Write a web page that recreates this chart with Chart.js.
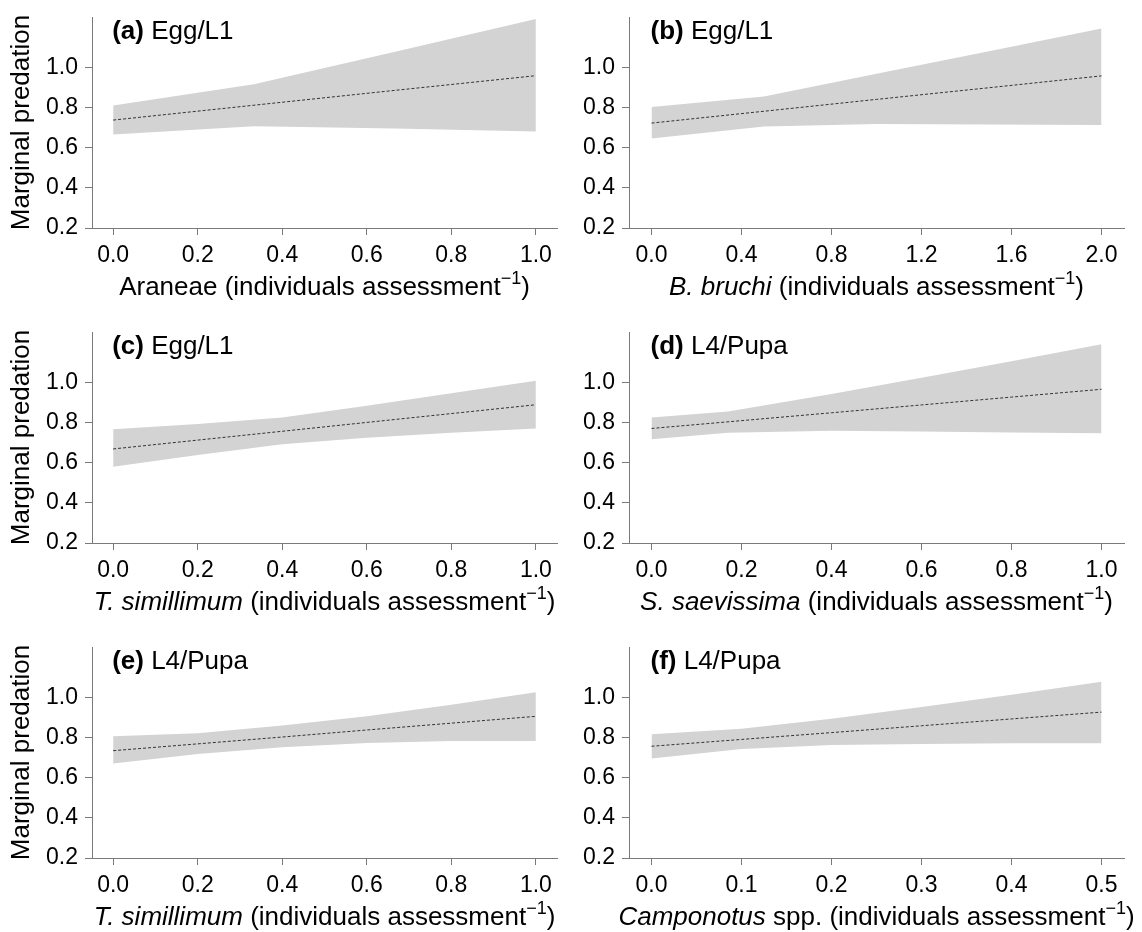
<!DOCTYPE html>
<html>
<head>
<meta charset="utf-8">
<script src="https://cdn.jsdelivr.net/npm/chart.js@4.4.1/dist/chart.umd.min.js"></script>
<style>
  body { margin: 0; background: #fff; }
  #wrap { position: relative; width: 1142px; height: 932px; overflow: hidden; }
  #wrap canvas { position: absolute; }
</style>
</head>
<body>
<div id="wrap"></div>
<script>
'use strict';

// tick labels
const yTicks = [0.2, 0.4, 0.6, 0.8, 1.0];
const ticksUnit = [0, 0.2, 0.4, 0.6, 0.8, 1.0];
const ticksBruchi = [0, 0.4, 0.8, 1.2, 1.6, 2.0];
const ticksCamponotus = [0, 0.1, 0.2, 0.3, 0.4, 0.5];

// (a) Araneae, Egg/L1
const xA = [0, 0.333, 0.667, 1];
const upperA = [0.810, 0.915, 1.077, 1.240];
const lowerA = [0.665, 0.706, 0.695, 0.680];
const meanA = [0.737, 0.811, 0.885, 0.958];

// (b) B. bruchi, Egg/L1
const xB = [0, 0.5, 1, 1.5, 2];
const upperB = [0.802, 0.855, 0.968, 1.080, 1.193];
const lowerB = [0.645, 0.705, 0.717, 0.715, 0.713];
const meanB = [0.722, 0.781, 0.840, 0.898, 0.957];

// (c) T. simillimum, Egg/L1
const xC = [0, 0.2, 0.4, 0.6, 0.8, 1];
const upperC = [0.766, 0.792, 0.825, 0.883, 0.945, 1.008];
const lowerC = [0.579, 0.638, 0.691, 0.724, 0.749, 0.770];
const meanC = [0.668, 0.712, 0.756, 0.800, 0.844, 0.888];

// (d) S. saevissima, L4/Pupa
const xD = [0, 0.17, 0.4, 0.6, 0.8, 1];
const upperD = [0.825, 0.855, 0.942, 1.022, 1.105, 1.189];
const lowerD = [0.716, 0.749, 0.758, 0.755, 0.750, 0.746];
const meanD = [0.770, 0.803, 0.848, 0.887, 0.926, 0.965];

// (e) T. simillimum, L4/Pupa
const xE = [0, 0.2, 0.4, 0.6, 0.8, 1];
const upperE = [0.806, 0.821, 0.859, 0.905, 0.963, 1.025];
const lowerE = [0.670, 0.717, 0.751, 0.772, 0.782, 0.782];
const meanE = [0.734, 0.768, 0.802, 0.837, 0.871, 0.905];

// (f) Camponotus spp., L4/Pupa
const xF = [0, 0.1, 0.2, 0.3, 0.4, 0.5];
const upperF = [0.816, 0.843, 0.893, 0.951, 1.013, 1.077];
const lowerF = [0.695, 0.742, 0.762, 0.767, 0.771, 0.771];
const meanF = [0.756, 0.790, 0.824, 0.858, 0.892, 0.926];

const FONT = '"Liberation Sans", Arial, Helvetica, sans-serif';
const AXIS_GREY = '#7a7a7a';

const panels = [
  { tag: '(a)', stage: 'Egg/L1', x: xA, up: upperA, lo: lowerA, mean: meanA, ticks: ticksUnit,
    xmin: -0.05, xmax: 1.05, col: 0, row: 0, taxon: [['Araneae', false]] },
  { tag: '(b)', stage: 'Egg/L1', x: xB, up: upperB, lo: lowerB, mean: meanB, ticks: ticksBruchi,
    xmin: -0.1, xmax: 2.1, col: 1, row: 0, taxon: [['B. bruchi', true]] },
  { tag: '(c)', stage: 'Egg/L1', x: xC, up: upperC, lo: lowerC, mean: meanC, ticks: ticksUnit,
    xmin: -0.05, xmax: 1.05, col: 0, row: 1, taxon: [['T. simillimum', true]] },
  { tag: '(d)', stage: 'L4/Pupa', x: xD, up: upperD, lo: lowerD, mean: meanD, ticks: ticksUnit,
    xmin: -0.05, xmax: 1.05, col: 1, row: 1, taxon: [['S. saevissima', true]] },
  { tag: '(e)', stage: 'L4/Pupa', x: xE, up: upperE, lo: lowerE, mean: meanE, ticks: ticksUnit,
    xmin: -0.05, xmax: 1.05, col: 0, row: 2, taxon: [['T. simillimum', true]] },
  { tag: '(f)', stage: 'L4/Pupa', x: xF, up: upperF, lo: lowerF, mean: meanF, ticks: ticksCamponotus,
    xmin: -0.025, xmax: 0.525, col: 1, row: 2, taxon: [['Camponotus', true], [' spp.', false]] }
];

// canvas grid: columns and rows of the figure
const colLeft = [0, 575], colWidth = [575, 567], yAxisWidth = [92, 54];
const rowTop = [0, 315, 630], rowHeight = [315, 315, 302];
const PLOT_TOP = 17, PLOT_BOTTOM = 228, PAD_RIGHT = 18;

// panel tag and the mixed-style x axis title
const panelText = {
  id: 'panelText',
  afterDraw(chart, args, opts) {
    const { ctx, chartArea, scales } = chart;
    ctx.save();
    ctx.fillStyle = '#000';
    ctx.textBaseline = 'middle';
    ctx.textAlign = 'left';

    let x = scales.x.getPixelForValue(0) - 1;
    const yTag = chartArea.top + 15;
    ctx.font = 'bold 26px ' + FONT;
    ctx.fillText(opts.tag, x, yTag);
    x += ctx.measureText(opts.tag).width;
    ctx.font = '26px ' + FONT;
    x += ctx.measureText(' ').width;
    ctx.fillText(opts.stage, x, yTag);

    const parts = opts.taxon.map(p => ({ t: p[0], font: (p[1] ? 'italic ' : '') + '26px ' + FONT, dy: 0 }));
    parts.push({ t: ' (individuals assessment', font: '26px ' + FONT, dy: 0 });
    parts.push({ t: '\u22121', font: '18px ' + FONT, dy: -9 });
    parts.push({ t: ')', font: '26px ' + FONT, dy: 0 });
    let total = 0;
    parts.forEach(p => { ctx.font = p.font; p.w = ctx.measureText(p.t).width; total += p.w; });
    let tx = (chartArea.left + chartArea.right) / 2 - total / 2;
    const ty = chartArea.bottom + 60;
    parts.forEach(p => {
      ctx.font = p.font;
      ctx.fillText(p.t, tx, ty + p.dy);
      tx += p.w;
    });
    ctx.restore();
  }
};

function zeroPadding(scale) {
  scale.paddingTop = 0;
  scale.paddingBottom = 0;
  scale.paddingLeft = 0;
  scale.paddingRight = 0;
}

const wrap = document.getElementById('wrap');

panels.forEach(p => {
  const cv = document.createElement('canvas');
  const w = colWidth[p.col], h = rowHeight[p.row];
  cv.width = w; cv.height = h;
  cv.style.left = colLeft[p.col] + 'px';
  cv.style.top = rowTop[p.row] + 'px';
  cv.style.width = w + 'px';
  cv.style.height = h + 'px';
  wrap.appendChild(cv);

  const toPts = ys => p.x.map((v, i) => ({ x: v, y: ys[i] }));

  new Chart(cv, {
    type: 'line',
    data: {
      datasets: [
        { data: toPts(p.up), borderWidth: 0, pointRadius: 0, fill: '+1',
          backgroundColor: '#d3d3d3', borderColor: 'rgba(0,0,0,0)', tension: 0 },
        { data: toPts(p.lo), borderWidth: 0, pointRadius: 0, fill: false,
          borderColor: 'rgba(0,0,0,0)', tension: 0 },
        { data: toPts(p.mean), borderWidth: 1, pointRadius: 0, fill: false,
          borderColor: '#333333', borderDash: [3, 2], tension: 0 }
      ]
    },
    options: {
      responsive: false,
      animation: false,
      devicePixelRatio: 1,
      layout: { padding: { left: 0, top: PLOT_TOP, right: PAD_RIGHT, bottom: 0 } },
      plugins: {
        legend: { display: false },
        tooltip: { enabled: false },
        filler: { drawTime: 'beforeDatasetsDraw' },
        panelText: { tag: p.tag, stage: p.stage, taxon: p.taxon }
      },
      scales: {
        x: {
          type: 'linear',
          min: p.xmin,
          max: p.xmax,
          afterBuildTicks: s => { s.ticks = p.ticks.map(v => ({ value: v })); },
          afterFit: s => { s.height = h - PLOT_BOTTOM; zeroPadding(s); },
          ticks: {
            color: '#000', padding: 7, maxRotation: 0, autoSkip: false,
            font: { family: FONT, size: 23, lineHeight: 1.2 },
            callback: v => Number(v).toFixed(1)
          },
          grid: { display: true, drawOnChartArea: false, drawTicks: true, tickLength: 7,
                  color: AXIS_GREY, lineWidth: 1 },
          border: { display: true, color: AXIS_GREY, width: 1 }
        },
        y: {
          type: 'linear',
          min: 0.2,
          max: 1.25,
          afterBuildTicks: s => { s.ticks = yTicks.map(v => ({ value: v })); },
          afterFit: s => { s.width = yAxisWidth[p.col]; zeroPadding(s); },
          ticks: {
            color: '#000', padding: 7, autoSkip: false,
            font: { family: FONT, size: 23, lineHeight: 1.2 },
            callback: v => Number(v).toFixed(1)
          },
          grid: { display: true, drawOnChartArea: false, drawTicks: true, tickLength: 7,
                  color: AXIS_GREY, lineWidth: 1 },
          border: { display: true, color: AXIS_GREY, width: 1 },
          title: {
            display: p.col === 0,
            text: 'Marginal predation',
            color: '#000',
            font: { family: FONT, size: 26, lineHeight: 1.2 },
            padding: { top: 6, bottom: 0 }
          }
        }
      }
    },
    plugins: [panelText]
  });
});
</script>
</body>
</html>
